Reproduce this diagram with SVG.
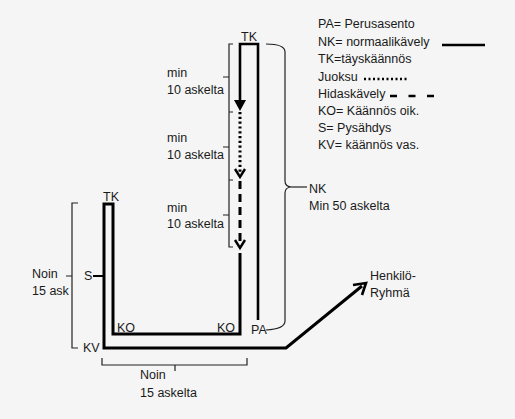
<svg xmlns="http://www.w3.org/2000/svg" width="515" height="419" viewBox="0 0 515 419">
<style>
text{font-family:"Liberation Sans",Arial,sans-serif;font-size:12.5px;fill:#1a1a1a}
.thick{fill:none;stroke:#000;stroke-width:3;stroke-linejoin:miter}
.thin{fill:none;stroke:#000;stroke-width:1.3}
.br{fill:none;stroke:#222;stroke-width:1.2}
.chev{fill:none;stroke:#000;stroke-width:2.4}
</style>
<rect width="515" height="419" fill="#f5f5f5"/>
<g id="connectors">
  <!-- outer route from PA up, over, down -->
  <polyline class="thick" points="258,320 258,44 240,44 240,106" style="stroke-width:2.6"/>
  <polygon points="234,100 246,100 240,111" fill="#000"/>
  <line x1="240" y1="112" x2="240" y2="174" stroke="#000" stroke-width="3" stroke-dasharray="2.2 2.6"/>
  <polyline class="chev" points="235,169 240,177 245,169"/>
  <line x1="240" y1="181" x2="240" y2="246" stroke="#000" stroke-width="3" stroke-dasharray="8 5"/>
  <polyline class="chev" points="235,240 240,248 245,240"/>
  <polyline class="thick" points="240,253 240,334 113,334 113,204 104,204 104,348 286,348 362,286"/>
  <polyline class="thick" points="353,285 366,283 362,295" style="stroke-width:2.6"/>
</g>
<g id="legend">
  <text x="318" y="28">PA= Perusasento</text>
  <text x="318" y="46">NK= normaalikävely</text>
  <line x1="442" y1="45" x2="485" y2="45" stroke="#000" stroke-width="2.6"/>
  <text x="318" y="63">TK=täyskäännös</text>
  <text x="318" y="81">Juoksu</text>
  <line x1="364" y1="79" x2="409" y2="79" stroke="#000" stroke-width="2.6" stroke-dasharray="2 2.5"/>
  <text x="318" y="98">Hidaskävely</text>
  <line x1="390" y1="96" x2="434" y2="96" stroke="#000" stroke-width="2.6" stroke-dasharray="7 11.5"/>
  <text x="318" y="115">KO= Käännös oik.</text>
  <text x="318" y="132">S= Pysähdys</text>
  <text x="318" y="149">KV= käännös vas.</text>
</g>
<g id="labels">
  <text x="241" y="41">TK</text>
  <text x="103" y="201">TK</text>
  <text x="84" y="280">S</text>
  <line x1="93" y1="276" x2="104" y2="276" stroke="#000" stroke-width="2"/>
  <text x="83" y="352">KV</text>
  <text x="117" y="332">KO</text>
  <text x="217" y="332">KO</text>
  <text x="251" y="334">PA</text>
  <text x="370" y="280">Henkilö-</text>
  <text x="370" y="297">Ryhmä</text>
</g>
<g id="brace-steps">
  <path class="br" d="M233,44 H229 V247 H233 M229,112 H233 M229,180 H233 M229,77 H223 M229,147 H223 M229,215 H223"/>
  <text x="167" y="77">min</text>
  <text x="167" y="94">10 askelta</text>
  <text x="167" y="142">min</text>
  <text x="167" y="159">10 askelta</text>
  <text x="167" y="212">min</text>
  <text x="167" y="228">10 askelta</text>
</g>
<g id="brace-nk">
  <path class="br" d="M266,44 Q285,44 285,52 V181 Q285,187 292,187 Q285,187 285,193 V321 Q285,329 266,330"/>
  <line class="br" x1="292" y1="187" x2="307" y2="187"/>
  <text x="309" y="193">NK</text>
  <text x="309" y="210">Min 50 askelta</text>
</g>
<g id="brace-left">
  <path class="br" d="M78,203 H72 V348 H78 M72,276 H66"/>
  <text x="32" y="278">Noin</text>
  <text x="32" y="295">15 ask</text>
</g>
<g id="brace-bottom">
  <path class="br" d="M102,358 V365 H247 V358 M175,365 V371"/>
  <text x="140" y="379">Noin</text>
  <text x="140" y="397">15 askelta</text>
</g>
</svg>
